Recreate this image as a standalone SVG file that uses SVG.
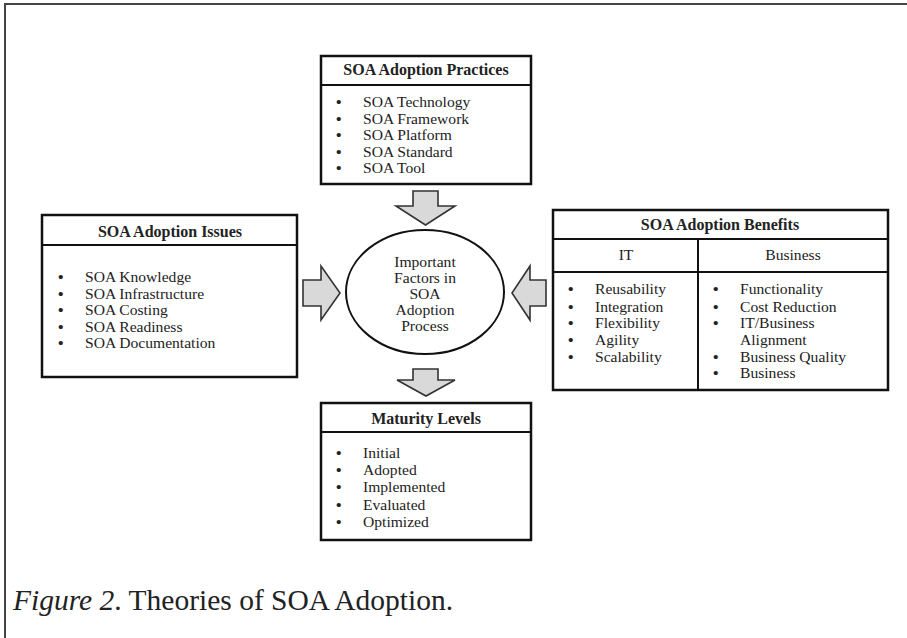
<svg xmlns="http://www.w3.org/2000/svg" width="907" height="638" viewBox="0 0 907 638">
<style>
.box{fill:#fff;stroke:#111;stroke-width:2.5}
.ln{stroke:#111;stroke-width:2}
.arr{fill:#d9d9d9;stroke:#333;stroke-width:1.6;stroke-linejoin:miter}
text{font-family:"Liberation Serif","Times New Roman",serif;fill:#222;font-size:15.6px}
.h{font-weight:bold;text-anchor:middle;font-size:16px}
.c{text-anchor:middle}
.b{font-weight:bold}
.cap{font-size:29.5px;fill:#222}
</style>
<rect width="907" height="638" fill="#fff"/>
<path d="M5 638 V4 H907" fill="none" stroke="#444" stroke-width="2"/>

<g id="practices">
<rect class="box" x="321" y="56" width="210" height="128"/>
<line class="ln" x1="321" y1="85" x2="531" y2="85"/>
<text class="h" x="426" y="75">SOA Adoption Practices</text>
<g>
<text class="b" x="336" y="107">•</text><text x="363" y="107">SOA Technology</text>
<text class="b" x="336" y="124">•</text><text x="363" y="124">SOA Framework</text>
<text class="b" x="336" y="140">•</text><text x="363" y="140">SOA Platform</text>
<text class="b" x="336" y="157">•</text><text x="363" y="157">SOA Standard</text>
<text class="b" x="336" y="173">•</text><text x="363" y="173">SOA Tool</text>
</g>
</g>

<g id="issues">
<rect class="box" x="42" y="215" width="255" height="162"/>
<line class="ln" x1="42" y1="245" x2="297" y2="245"/>
<text class="h" x="170" y="237">SOA Adoption Issues</text>
<text class="b" x="58" y="282">•</text><text x="85" y="282">SOA Knowledge</text>
<text class="b" x="58" y="299">•</text><text x="85" y="299">SOA Infrastructure</text>
<text class="b" x="58" y="315">•</text><text x="85" y="315">SOA Costing</text>
<text class="b" x="58" y="332">•</text><text x="85" y="332">SOA Readiness</text>
<text class="b" x="58" y="348">•</text><text x="85" y="348">SOA Documentation</text>
</g>

<g id="center">
<ellipse cx="425" cy="292" rx="79" ry="62" fill="#fff" stroke="#111" stroke-width="2"/>
<text class="c" x="425" y="267">Important</text>
<text class="c" x="425" y="283">Factors in</text>
<text class="c" x="425" y="299">SOA</text>
<text class="c" x="425" y="315">Adoption</text>
<text class="c" x="425" y="331">Process</text>
</g>

<g id="benefits">
<rect class="box" x="553" y="210" width="335" height="180"/>
<line class="ln" x1="553" y1="239" x2="888" y2="239"/>
<line class="ln" x1="553" y1="272" x2="888" y2="272"/>
<line class="ln" x1="698" y1="239" x2="698" y2="390"/>
<text class="h" x="720" y="230">SOA Adoption Benefits</text>
<text class="c" x="626" y="260">IT</text>
<text class="c" x="793" y="260">Business</text>
<text class="b" x="568" y="294">•</text><text x="595" y="294">Reusability</text>
<text class="b" x="568" y="312">•</text><text x="595" y="312">Integration</text>
<text class="b" x="568" y="328">•</text><text x="595" y="328">Flexibility</text>
<text class="b" x="568" y="345">•</text><text x="595" y="345">Agility</text>
<text class="b" x="568" y="362">•</text><text x="595" y="362">Scalability</text>
<text class="b" x="713" y="294">•</text><text x="740" y="294">Functionality</text>
<text class="b" x="713" y="312">•</text><text x="740" y="312">Cost Reduction</text>
<text class="b" x="713" y="328">•</text><text x="740" y="328">IT/Business</text>
<text x="740" y="345">Alignment</text>
<text class="b" x="713" y="362">•</text><text x="740" y="362">Business Quality</text>
<text class="b" x="713" y="378">•</text><text x="740" y="378">Business</text>
</g>

<g id="maturity">
<rect class="box" x="321" y="403" width="210" height="137"/>
<line class="ln" x1="321" y1="432" x2="531" y2="432"/>
<text class="h" x="426" y="424">Maturity Levels</text>
<text class="b" x="336" y="458">•</text><text x="363" y="458">Initial</text>
<text class="b" x="336" y="475">•</text><text x="363" y="475">Adopted</text>
<text class="b" x="336" y="492">•</text><text x="363" y="492">Implemented</text>
<text class="b" x="336" y="510">•</text><text x="363" y="510">Evaluated</text>
<text class="b" x="336" y="527">•</text><text x="363" y="527">Optimized</text>
</g>

<g id="connectors">
<path class="arr" d="M413 191 H438 V206 H455 L425.5 225 L396 206 H413 Z"/>
<path class="arr" d="M413 369 H438 V380 H455 L426 396 L397 380 H413 Z"/>
<path class="arr" d="M303 280 H321 V266 L340 293 L321 320 V306 H303 Z"/>
<path class="arr" d="M546 280 H530 V266 L512 293 L530 320 V306 H546 Z"/>
</g>

<text class="cap" x="13" y="610"><tspan font-style="italic">Figure 2</tspan>. Theories of SOA Adoption.</text>
</svg>
